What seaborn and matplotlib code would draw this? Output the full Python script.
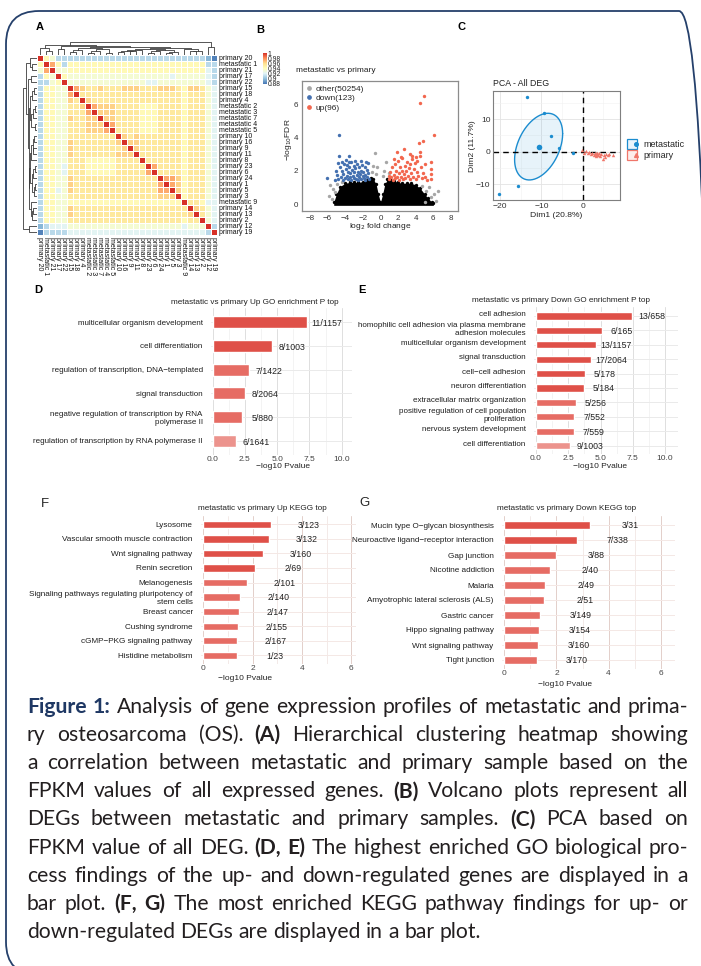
import matplotlib
matplotlib.use("Agg")
import matplotlib.pyplot as plt
import numpy as np
import pandas as pd
import seaborn as sns
from matplotlib.colors import LinearSegmentedColormap
from matplotlib.legend_handler import HandlerTuple
from matplotlib.lines import Line2D
from matplotlib.patches import FancyBboxPatch
from matplotlib.transforms import ScaledTranslation

# ---------------- panel A: sample correlation heatmap ----------------
sample_labels = [
    "primary 20", "metastatic 1", "primary 21", "primary 17", "primary 22",
    "primary 15", "primary 18", "primary 4", "metastatic 2", "metastatic 3",
    "metastatic 7", "metastatic 4", "metastatic 5", "primary 10", "primary 16",
    "primary 9", "primary 11", "primary 8", "primary 23", "primary 6",
    "primary 24", "primary 1", "primary 5", "primary 3", "metastatic 9",
    "primary 14", "primary 13", "primary 2", "primary 12", "primary 19",
]
# lower triangle, one colour level per cell
corr_rows = [
    "9",
    "59",
    "489",
    "2549",
    "22459",
    "25544" + "9",
    "25544" + "8" + "9",
    "25544" + "76" + "9",
    "25544" + "667" + "9",
    "25544" + "6668" + "9",
    "25544" + "76677" + "9",
    "25544" + "666777" + "9",
    "25544" + "6667778" + "9",
    "25544" + "6" * 8 + "9",
    "25544" + "7" + "6" * 7 + "7" + "9",
    "25544" + "7" + "6" * 8 + "7" + "9",
    "25544" + "7" + "6" * 7 + "777" + "9",
    "25544" + "666" + "5" * 5 + "6" * 4 + "9",
    "25543" + "666" + "5" * 5 + "6" * 5 + "9",
    "25543" + "666" + "5" * 5 + "6" * 5 + "8" + "9",
    "25544" + "7" + "6" * 14 + "9",
    "25544" + "7" + "6" * 14 + "8" + "9",
    "25534" + "7" + "6" * 14 + "88" + "9",
    "25544" + "6" + "6" * 14 + "777" + "9",
    "25544" + "5" * 19 + "9",
    "25544" + "7" + "6" * 19 + "9",
    "25544" + "7" + "6" * 19 + "7" + "9",
    "25544" + "6" * 19 + "5" + "66" + "9",
    "12333" + "4" * 19 + "3" + "444" + "9",
    "02222" + "3" * 19 + "3" + "333" + "2" + "9",
]
corr_levels = {"0": 0.884, "1": 0.898, "2": 0.910, "3": 0.922, "4": 0.933,
               "5": 0.944, "6": 0.954, "7": 0.963, "8": 0.973, "9": 1.0}
# [height, left, right]; leaves are row indices
dendro_tree = [1.0,
               [0.78,
                [0.55, 0, [0.35, 1, 2]],
                [0.68,
                 [0.45, 3, 4],
                 [0.62,
                  [0.55, [0.4, [0.25, 5, 6], 7],
                   [0.45, [0.3, [0.15, 8, 9], 10], [0.18, 11, 12]]],
                  [0.58,
                   [0.5,
                    [0.42, [0.3, [0.25, 13, 14], [0.28, 15, 16]], 17],
                    [0.4, [0.3, [0.15, 18, 19], 20], [0.22, [0.14, 21, 22], 23]]],
                   [0.45, 24, [0.35, [0.28, 25, 26], 27]]]]]],
               [0.6, 28, 29]]
heat_ticks = [0.88, 0.90, 0.92, 0.94, 0.96, 0.98, 1.0]
heat_tick_labels = ["0.88", "0.9", "0.92", "0.94", "0.96", "0.98", "1"]
heat_colors = ["#4575B4", "#91BFDB", "#E0F3F8", "#FFFFBF", "#FEE090", "#FC8D59", "#D73027"]

# ---------------- panel B: volcano ----------------
down_pts = [(-4.7, 4.17), (-4.7, 2.9), (-3.6, 2.9), (-6.1, 1.58), (-1.6, 2.5),
            (-5.0, 2.0), (-4.9, 1.75), (-4.8, 1.5), (-4.6, 2.25), (-4.5, 1.6),
            (-4.4, 2.0), (-4.3, 1.45), (-4.2, 1.8), (-4.1, 2.4), (-4.0, 1.55),
            (-3.95, 2.1), (-3.85, 1.7), (-3.8, 2.35), (-3.7, 1.5), (-3.65, 1.95),
            (-3.55, 2.2), (-3.5, 1.6), (-3.4, 1.85), (-3.35, 2.5), (-3.3, 1.45),
            (-3.2, 2.05), (-3.15, 1.7), (-3.05, 2.3), (-3.0, 1.55), (-2.95, 1.9),
            (-2.85, 2.15), (-2.8, 1.5), (-2.7, 1.75), (-2.65, 2.4), (-2.6, 1.45),
            (-2.5, 1.95), (-2.45, 2.25), (-2.4, 1.6), (-2.3, 1.8), (-2.25, 2.0),
            (-2.15, 1.5), (-2.1, 2.35), (-2.0, 1.7), (-1.95, 1.9), (-1.85, 1.55),
            (-1.8, 2.2), (-1.75, 1.45), (-1.7, 1.75), (-1.55, 2.05), (-1.5, 1.6),
            (-1.45, 2.45), (-1.4, 1.85), (-2.9, 2.6), (-3.9, 2.65), (-4.35, 2.5),
            (-5.2, 1.45), (-1.35, 1.5), (-2.2, 2.6), (-3.6, 2.55), (-4.8, 2.45)]
up_pts = [(4.96, 6.5), (4.5, 6.1), (6.1, 4.15), (4.85, 3.8), (4.35, 3.65),
          (2.7, 3.3), (1.9, 3.1), (4.45, 3.1), (4.5, 2.9), (5.7, 2.55),
          (5.7, 2.1), (5.75, 1.8), (5.75, 1.5), (3.35, 3.0),
          (1.0, 1.5), (1.1, 1.9), (1.2, 1.6), (1.3, 2.2), (1.4, 1.45),
          (1.5, 1.75), (1.6, 2.4), (1.7, 1.55), (1.8, 2.0), (1.9, 1.65),
          (2.0, 2.6), (2.05, 1.45), (2.15, 1.85), (2.25, 2.2), (2.3, 1.6),
          (2.4, 2.0), (2.5, 2.75), (2.55, 1.5), (2.65, 1.8), (2.75, 2.3),
          (2.8, 1.55), (2.9, 2.0), (3.0, 2.5), (3.1, 1.7), (3.2, 2.15),
          (3.3, 1.5), (3.4, 2.4), (3.5, 1.85), (3.6, 2.7), (3.7, 1.6),
          (3.8, 2.1), (3.9, 2.45), (4.0, 1.5), (4.1, 1.9), (4.2, 2.6),
          (4.3, 1.7), (4.6, 2.2), (4.7, 1.55), (4.8, 1.85), (5.0, 2.4),
          (5.1, 1.6), (5.3, 1.45), (3.55, 2.9), (2.35, 2.85), (4.05, 2.85),
          (1.55, 2.7), (0.95, 1.7)]
other_pts = [(-0.6, 3.05), (0.6, 2.55), (6.5, 0.8), (6.1, 0.6), (5.7, 0.45),
             (5.0, 0.15), (-5.7, 1.15), (-5.4, 0.9), (-5.2, 0.7), (-4.9, 1.2),
             (-0.4, 2.2), (0.4, 2.0), (-0.5, 1.8), (0.3, 1.7), (5.5, 1.0),
             (5.2, 0.8), (-5.8, 0.5), (-0.8, 2.3), (-5.5, 0.3), (6.3, 0.2),
             (-1.0, 1.9), (1.0, 1.85), (-4.4, 1.3), (4.7, 1.1)]
# outline of the dense mass of non-significant genes
core_x = [-5.3, -5.0, -4.6, -4.0, -3.5, -3.0, -2.5, -2.0, -1.5, -1.1, -0.8, -0.5,
          -0.25, 0.0, 0.25, 0.5, 0.8, 1.1, 1.5, 2.0, 2.5, 3.0, 3.5, 4.0, 4.5, 5.0,
          5.4, 5.8, 6.0]
core_top = [0.1, 0.6, 1.05, 1.25, 1.3, 1.3, 1.3, 1.35, 1.45, 1.55, 1.5, 1.2,
            0.6, 0.1, 0.6, 1.2, 1.5, 1.5, 1.4, 1.3, 1.25, 1.25, 1.25, 1.15, 0.95,
            0.6, 0.35, 0.12, 0.05]
volcano_legend = ["other(50254)", "down(123)", "up(96)"]

# ---------------- panel C: PCA ----------------
met_x = [-13.6, -9.4, -7.7, -5.8, -15.7, -20.2, -2.3]
met_y = [16.9, 11.9, 4.8, 1.0, -10.4, -12.9, -0.4]
pri_x = [-0.2, 0.3, 0.8, 1.2, 1.6, 2.0, 2.3, 2.6, 2.9, 3.1, 3.3, 3.5, 3.7, 4.0,
         4.2, 4.5, 4.8, 5.1, 5.3, 5.6, 6.0, 6.4, 7.4]
pri_y = [0.4, -0.3, 0.2, -0.5, -0.2, -0.8, -0.4, -1.0, -0.3, -0.7, -1.2, -0.5,
         -0.9, -0.4, -1.3, -0.8, -2.1, -1.0, -1.5, -0.6, -1.1, -0.7, -1.0]
ellipse_scale = 0.94

# ---------------- panels D-G: enrichment bars ----------------
d_terms = ["multicellular organism development", "cell differentiation",
           "regulation of transcription, DNA\u2212templated", "signal transduction",
           "negative regulation of transcription by RNA\npolymerase II",
           "regulation of transcription by RNA polymerase II"]
d_values = [7.29, 4.62, 2.79, 2.50, 2.30, 1.80]
d_counts = ["11/1157", "8/1003", "7/1422", "8/2064", "5/880", "6/1641"]
d_tiers = ["high", "high", "mid", "mid", "mid", "low"]

e_terms = ["cell adhesion",
           "homophilic cell adhesion via plasma membrane\nadhesion molecules",
           "multicellular organism development", "signal transduction",
           "cell\u2212cell adhesion", "neuron differentiation",
           "extracellular matrix organization",
           "positive regulation of cell population\nproliferation",
           "nervous system development", "cell differentiation"]
e_values = [7.42, 5.09, 4.65, 4.26, 3.77, 3.72, 3.08, 2.97, 2.92, 2.64]
e_counts = ["13/658", "6/165", "13/1157", "17/2064", "5/178", "5/184", "5/256",
            "7/552", "7/559", "9/1003"]
e_tiers = ["high"] * 6 + ["mid"] * 3 + ["low"]

f_terms = ["Lysosome", "Vascular smooth muscle contraction", "Wnt signaling pathway",
           "Renin secretion", "Melanogenesis",
           "Signaling pathways regulating pluripotency of\nstem cells",
           "Breast cancer", "Cushing syndrome", "cGMP\u2212PKG signaling pathway",
           "Histidine metabolism"]
f_values = [2.74, 2.65, 2.42, 2.08, 1.76, 1.50, 1.46, 1.42, 1.37, 1.36]
f_counts = ["3/123", "3/132", "3/160", "2/69", "2/101", "2/140", "2/147", "2/155",
            "2/167", "1/23"]
f_tiers = ["high"] * 4 + ["mid"] * 6

g_terms = ["Mucin type O\u2212glycan biosynthesis",
           "Neuroactive ligand\u2212receptor interaction", "Gap junction",
           "Nicotine addiction", "Malaria", "Amyotrophic lateral sclerosis (ALS)",
           "Gastric cancer", "Hippo signaling pathway", "Wnt signaling pathway",
           "Tight junction"]
g_values = [3.27, 2.79, 1.99, 1.74, 1.58, 1.54, 1.37, 1.35, 1.31, 1.24]
g_counts = ["3/31", "7/338", "3/88", "2/40", "2/49", "2/51", "3/149", "3/154",
            "3/160", "3/170"]
g_tiers = ["high"] * 2 + ["mid"] * 8

# ---------------- caption ----------------
cap_lines = [
    "Figure 1: Analysis of gene expression profiles of metastatic and prima-",
    "ry osteosarcoma (OS). (A) Hierarchical clustering heatmap showing",
    "a correlation between metastatic and primary sample based on the",
    "FPKM values of all expressed genes. (B) Volcano plots represent all",
    "DEGs between metastatic and primary samples. (C) PCA based on",
    "FPKM value of all DEG. (D, E) The highest enriched GO biological pro-",
    "cess findings of the up- and down-regulated genes are displayed in a",
    "bar plot. (F, G) The most enriched KEGG pathway findings for up- or",
    "down-regulated DEGs are displayed in a bar plot.",
]
cap_bold = {"Figure", "1:", "(A)", "(B)", "(C)", "(D,", "E)", "(F,", "G)"}
cap_navy = {"Figure", "1:"}

# ======================================================================
sns.set_theme(style="white")
plt.rcParams["font.family"] = ["Liberation Sans", "DejaVu Sans"]
plt.rcParams["axes.unicode_minus"] = True

FIG_W, FIG_H = 701, 966
fig = plt.figure(figsize=(FIG_W / 100, FIG_H / 100), dpi=100, facecolor="white")


def rect_px(x0, y0, x1, y1):
    return [x0 / FIG_W, 1 - y1 / FIG_H, (x1 - x0) / FIG_W, (y1 - y0) / FIG_H]


def text_px(x, y, s, **kw):
    return fig.text(x / FIG_W, 1 - y / FIG_H, s, **kw)


# frame round the whole figure
frame = FancyBboxPatch((0.06, -0.09), 7.06, 9.64,
                       boxstyle="round,pad=0,rounding_size=0.33",
                       transform=fig.dpi_scale_trans, facecolor="none",
                       edgecolor="#25406B", linewidth=1.3)
fig.patches.append(frame)

letter_kw = dict(fontsize=8, fontweight="bold", color="black", va="center")
text_px(36, 27, "A", **letter_kw)
text_px(256, 30, "B", **letter_kw)
text_px(458, 27, "C", **letter_kw)
text_px(34, 290, "D", **letter_kw)
text_px(358, 290, "E", **letter_kw)
text_px(41, 504, "F", fontsize=9.5, va="center")
text_px(359, 503, "G", fontsize=9.5, va="center")

# ---- A ----
n = len(sample_labels)
corr = np.full((n, n), corr_levels["6"])
for i, row in enumerate(corr_rows):
    for j, ch in enumerate(row[: i + 1]):
        corr[i, j] = corr[j, i] = corr_levels[ch]
np.fill_diagonal(corr, 1.0)
corr_df = pd.DataFrame(corr, index=sample_labels, columns=sample_labels)

hm_cmap = LinearSegmentedColormap.from_list("rdylbu_r", heat_colors)
ax_hm = fig.add_axes(rect_px(37, 55, 217, 235))
sns.heatmap(corr_df, ax=ax_hm, cmap=hm_cmap, vmin=0.88, vmax=1.0, cbar=False,
            linewidths=0.4, linecolor="white", xticklabels=True, yticklabels=True)
ax_hm.yaxis.tick_right()
ax_hm.tick_params(axis="both", length=0, pad=1.2, labelsize=5.0, colors="#111111")
for t in ax_hm.get_yticklabels():
    t.set_rotation(0)
    t.set_ha("left")
for t in ax_hm.get_xticklabels():
    t.set_rotation(270)
    t.set_ha("center")
    t.set_va("top")


def dendro_links(node):
    if isinstance(node, int):
        return node + 0.5, 0.0, []
    h, left, right = node
    xl, hl, ll = dendro_links(left)
    xr, hr, lr = dendro_links(right)
    return (xl + xr) / 2, h, ll + lr + [([xl, xl, xr, xr], [hl, h, h, hr])]


_, _, links = dendro_links(dendro_tree)
ax_top = fig.add_axes(rect_px(37, 42, 217, 55))
ax_left = fig.add_axes(rect_px(23, 55, 37, 235))
for xs, hs in links:
    ax_top.plot(xs, hs, color="#3A3A3A", lw=0.6)
    ax_left.plot(hs, xs, color="#3A3A3A", lw=0.6)
ax_top.set_xlim(0, n)
ax_top.set_ylim(0, 1.03)
ax_left.set_ylim(n, 0)
ax_left.set_xlim(1.03, 0)
ax_top.axis("off")
ax_left.axis("off")

cax = fig.add_axes(rect_px(263, 53, 266.5, 84))
cb = fig.colorbar(ax_hm.collections[0], cax=cax)
cb.set_ticks(heat_ticks)
cb.set_ticklabels(heat_tick_labels)
cb.outline.set_visible(False)
cax.tick_params(length=0, labelsize=4.9, pad=1, colors="#222222")

# ---- B ----
c_gray, c_blue, c_red = "#A6A6A6", "#4470B0", "#F2674E"
axv = fig.add_axes(rect_px(302, 81, 458, 211))
axv.fill_between(core_x, -0.08, core_top, color="black", lw=0, zorder=1)
sns.scatterplot(x=core_x, y=core_top, color="black", s=6, linewidth=0, ax=axv, zorder=1)
ox, oy = zip(*other_pts)
dx, dy = zip(*down_pts)
ux, uy = zip(*up_pts)
sns.scatterplot(x=list(ox), y=list(oy), color=c_gray, s=6, linewidth=0, ax=axv, zorder=2)
sns.scatterplot(x=list(dx), y=list(dy), color=c_blue, s=6, linewidth=0, ax=axv, zorder=3)
sns.scatterplot(x=list(ux), y=list(uy), color=c_red, s=6, linewidth=0, ax=axv, zorder=3)
axv.set_xlim(-8.9, 8.8)
axv.set_ylim(-0.42, 7.4)
axv.set_xticks([-8, -6, -4, -2, 0, 2, 4, 6, 8])
axv.set_yticks([0, 2, 4, 6])
axv.tick_params(length=2, width=0.5, color="#333333", labelsize=5.8, pad=0.8,
                labelcolor="#333333")
for sp in axv.spines.values():
    sp.set_color("#8C8C8C")
    sp.set_linewidth(0.9)
handles = [Line2D([], [], marker="o", ls="none", ms=2.4, color=c) for c in (c_gray, c_blue, c_red)]
axv.legend(handles, volcano_legend, loc="upper left", frameon=False, fontsize=6,
           handlelength=0.8, handletextpad=0.4, labelspacing=0.2,
           borderaxespad=0.25, borderpad=0.2)
text_px(296, 71, "metastatic vs primary", fontsize=6, ha="left", va="center", color="#222222")
text_px(288, 140, "\u2212log$_{10}$FDR", fontsize=6, rotation=90, ha="center", va="center", color="#222222")
text_px(380, 226, "log$_{2}$ fold change", fontsize=6, ha="center", va="center", color="#222222")

# ---- C ----
p_blue, p_red = "#1B8CCF", "#F0766A"
axp = fig.add_axes(rect_px(493, 91, 620, 200))
axp.set_xlim(-21.7, 9.0)
axp.set_ylim(-14.8, 18.6)
axp.set_xticks([-20, -10, 0])
axp.set_yticks([-10, 0, 10])
axp.set_xticks([-15, -5, 5], minor=True)
axp.set_yticks([-5, 5, 15], minor=True)
axp.grid(which="major", color="#E3E3E3", lw=0.6)
axp.grid(which="minor", color="#F1F1F1", lw=0.4)
axp.set_axisbelow(True)
pts = np.column_stack([met_x, met_y])
center = pts.mean(axis=0)
chol = np.linalg.cholesky(np.cov(pts.T))
tt = np.linspace(0, 2 * np.pi, 200)
ell = center[:, None] + ellipse_scale * chol @ np.vstack([np.cos(tt), np.sin(tt)])
axp.fill(ell[0], ell[1], facecolor=p_blue, alpha=0.1, edgecolor="none", zorder=1)
axp.plot(ell[0], ell[1], color=p_blue, lw=1.0, zorder=2)
axp.axhline(0, color="black", ls=(0, (4, 3)), lw=1.0, zorder=2)
axp.axvline(0, color="black", ls=(0, (4, 3)), lw=1.0, zorder=2)
sns.scatterplot(x=met_x, y=met_y, color=p_blue, s=6, linewidth=0, ax=axp, zorder=3)
sns.scatterplot(x=pri_x, y=pri_y, color=p_red, s=6, marker="^", linewidth=0, ax=axp, zorder=3)
axp.scatter([center[0]], [center[1]], color=p_blue, s=16, lw=0, zorder=4)
axp.scatter([np.mean(pri_x)], [np.mean(pri_y)], color=p_red, s=16, marker="^", lw=0, zorder=4)
axp.tick_params(length=1.5, width=0.5, color="#555555", labelsize=6.1, pad=0.3, labelcolor="#333333")
for sp in axp.spines.values():
    sp.set_color("#7F7F7F")
    sp.set_linewidth(0.8)
sq_m = Line2D([], [], marker="s", ms=7, mfc="#EAF4FB", mec=p_blue, mew=0.9, ls="none")
dt_m = Line2D([], [], marker="o", ms=2.6, color=p_blue, ls="none")
sq_p = Line2D([], [], marker="s", ms=7, mfc="#FDEDEB", mec=p_red, mew=0.9, ls="none")
dt_p = Line2D([], [], marker="^", ms=2.8, color=p_red, ls="none")
axp.legend([(sq_m, dt_m), (sq_p, dt_p)], ["metastatic", "primary"],
           handler_map={tuple: HandlerTuple(ndivide=None)}, loc="center left",
           bbox_to_anchor=(1.04, 0.46), frameon=False, fontsize=6.5, handlelength=1.0,
           handletextpad=0.5, labelspacing=0.2, borderpad=0)
text_px(493, 84, "PCA - All DEG", fontsize=6.3, ha="left", va="center", color="#222222")
text_px(556, 215, "Dim1 (20.8%)", fontsize=6.1, ha="center", va="center", color="#222222")
text_px(473, 146, "Dim2 (11.7%)", fontsize=6.1, rotation=90, ha="center", va="center", color="#222222")

# ---- D-G ----
tier_colors = {"high": "#DF5048", "mid": "#E66C64", "low": "#EC938D"}
grey_grid = ("#DEDEDE", "#EFEFEF", "#EAEAEA")
warm_grid = ("#E3CFCA", "#EFE2DF", "#F4E8E5")


def draw_enrichment(rect, terms, values, counts, tiers, xlim, xticks, xtick_labels,
                    minor, title, title_xy, xlabel_xy, label_size, grid, label_dy=0.0):
    ax = fig.add_axes(rect_px(*rect))
    ax.set_axisbelow(True)
    sns.barplot(x=values, y=terms, hue=tiers, palette=tier_colors, dodge=False,
                width=0.5, saturation=1, legend=False, orient="y", ax=ax)
    ax.set_xlim(*xlim)
    ax.set_ylim(len(terms) - 0.4, -0.6)
    ax.set_xticks(xticks)
    ax.set_xticklabels(xtick_labels)
    ax.set_xticks(minor, minor=True)
    ax.grid(axis="x", which="major", color=grid[0], lw=0.7)
    ax.grid(axis="x", which="minor", color=grid[1], lw=0.5)
    ax.grid(axis="y", which="major", color=grid[2], lw=0.7)
    for sp in ax.spines.values():
        sp.set_visible(False)
    ax.set_xlabel("")
    ax.set_ylabel("")
    ax.tick_params(axis="both", which="both", length=0)
    ax.tick_params(axis="y", labelsize=label_size, pad=6, labelcolor="#1E1E1E")
    ax.tick_params(axis="x", labelsize=6, pad=0.6, labelcolor="#444444")
    if label_dy:
        shift = ScaledTranslation(0, label_dy / 100, fig.dpi_scale_trans)
        for lab in ax.get_yticklabels():
            lab.set_transform(lab.get_transform() + shift)
    for i, (v, c) in enumerate(zip(values, counts)):
        ax.text(v + 1.55, i + 0.06, c, ha="center", va="center", fontsize=6.3, color="#222222")
    text_px(title_xy[0], title_xy[1], title, fontsize=5.9, ha="center", va="center", color="#222222")
    text_px(xlabel_xy[0], xlabel_xy[1], "\u2212log10 Pvalue", fontsize=6, ha="center",
            va="center", color="#222222")
    return ax


draw_enrichment((211, 308, 352, 455), d_terms, d_values, d_counts, d_tiers,
                (-0.13, 10.80), [0, 2.5, 5, 7.5, 10], ["0.0", "2.5", "5.0", "7.5", "10.0"],
                [1.25, 3.75, 6.25, 8.75], "metastatic vs primary Up GO enrichment P top",
                (255, 302), (283, 467), 5.8, grey_grid)
draw_enrichment((534, 307.4, 678.3, 454.3), e_terms, e_values, e_counts, e_tiers,
                (-0.155, 11.03), [0, 2.5, 5, 7.5, 10], ["0.0", "2.5", "5.0", "7.5", "10.0"],
                [1.25, 3.75, 6.25, 8.75], "metastatic vs primary Down GO enrichment P top",
                (561, 301), (600, 467), 5.8, grey_grid, label_dy=2.5)
draw_enrichment((201, 515.6, 356, 664), f_terms, f_values, f_counts, f_tiers,
                (-0.093, 6.195), [0, 2, 4, 6], ["0", "2", "4", "6"], [1, 3, 5],
                "metastatic vs primary Up KEGG top", (262, 509), (245, 678), 5.9, warm_grid)
draw_enrichment((502, 516, 675, 669), g_terms, g_values, g_counts, g_tiers,
                (-0.088, 6.548), [0, 2, 4, 6], ["0", "2", "4", "6"], [1, 3, 5],
                "metastatic vs primary Down KEGG top", (567, 509), (565, 684), 5.9, warm_grid)

# ---- caption, justified word by word ----
cap_font = ["Lato", "DejaVu Sans"]
renderer = fig.canvas.get_renderer()


def measure(s, bold, size):
    t = fig.text(0, 0, s, fontsize=size, fontweight="bold" if bold else "normal", family=cap_font)
    w = t.get_window_extent(renderer=renderer).width
    t.remove()
    return w


cap_left, cap_right = 27, 688
target = cap_right - cap_left
base = 10.0
base_space = measure("a a", False, base) - measure("aa", False, base)
natural = []
for line in cap_lines[:-1]:
    words = line.split(" ")
    natural.append(sum(measure(w, w in cap_bold, base) for w in words)
                   + (len(words) - 1) * base_space)
cap_size = base * target * 0.985 / max(natural)
space_w = base_space * cap_size / base

for k, line in enumerate(cap_lines):
    words = line.split(" ")
    widths = [measure(w, w in cap_bold, cap_size) for w in words]
    if k < len(cap_lines) - 1 and len(words) > 1:
        gap = (target - sum(widths)) / (len(words) - 1)
    else:
        gap = space_w
    x = cap_left
    y = 713 + 28.1 * k
    for w, wd in zip(words, widths):
        color = "#1F3864" if w in cap_navy else "#231F20"
        text_px(x, y, w, fontsize=cap_size, fontweight="bold" if w in cap_bold else "normal",
                family=cap_font, color=color, ha="left", va="baseline")
        x += wd + gap

fig.savefig("out.png", dpi=100, facecolor="white")
